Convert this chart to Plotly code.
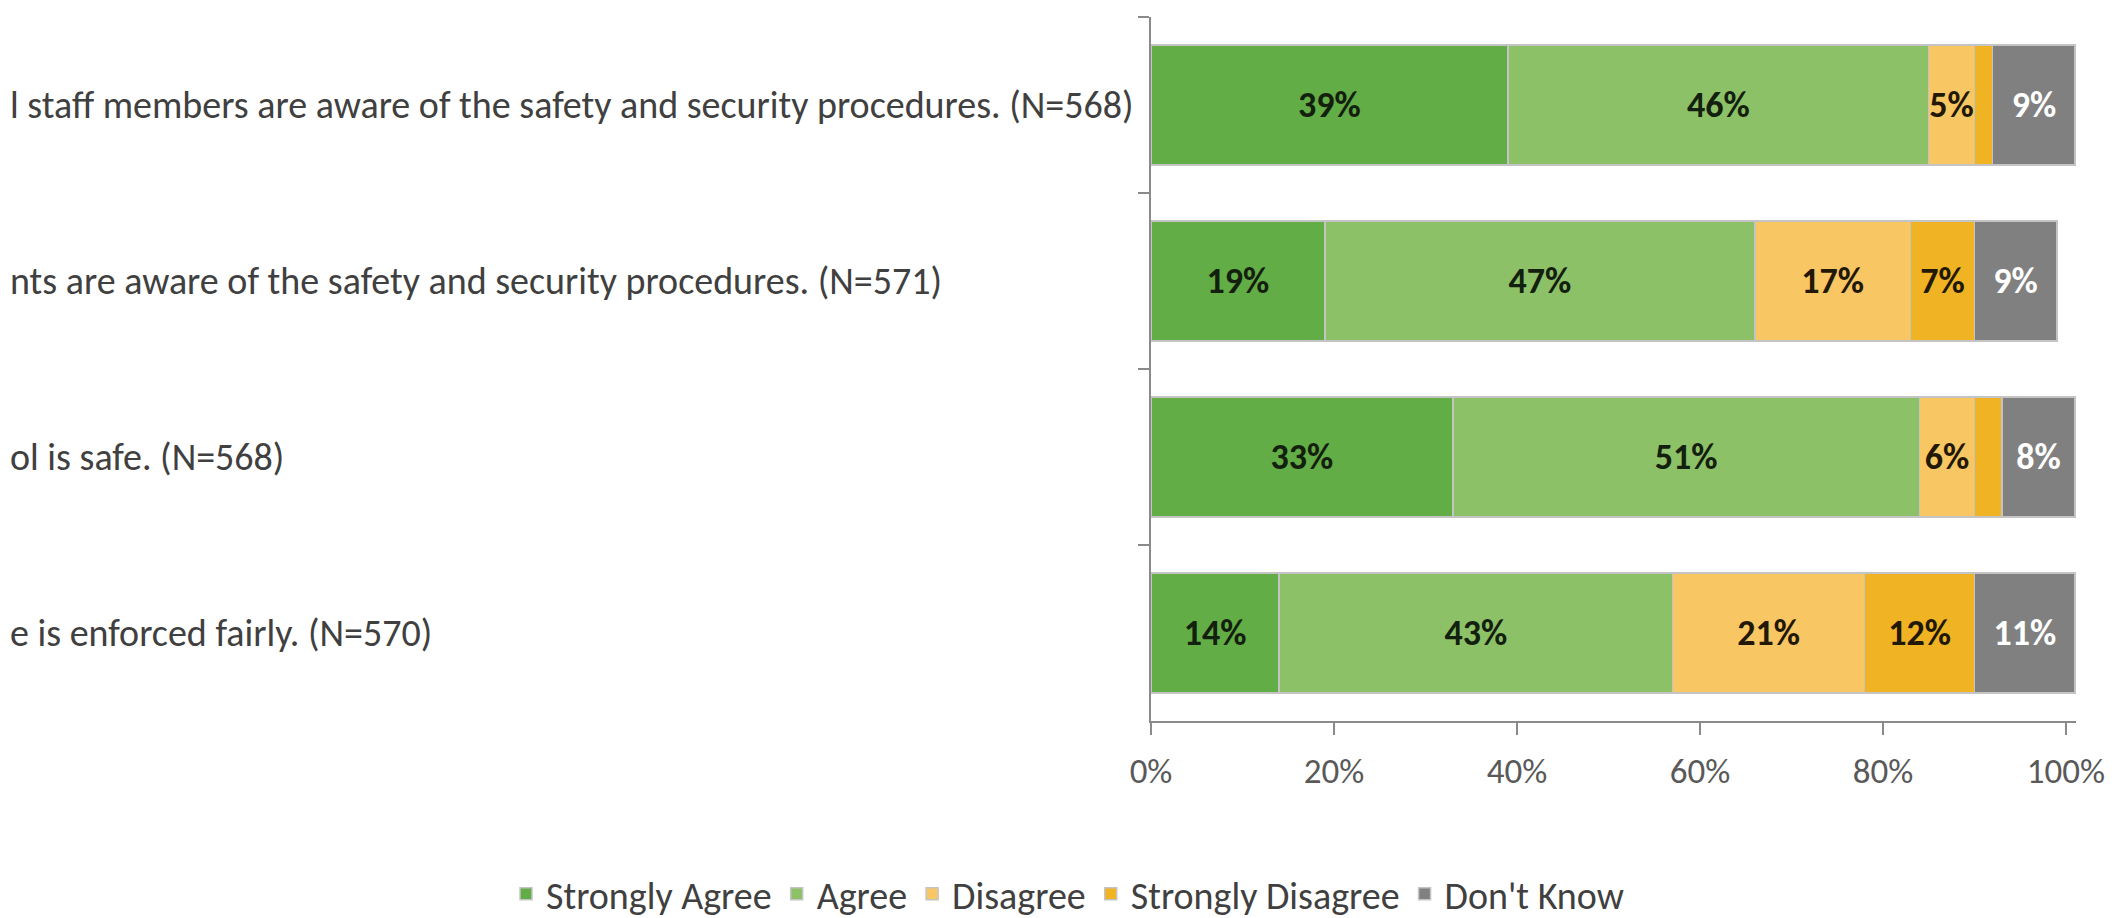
"""Survey safety items - 100% stacked horizontal bars."""

import plotly.graph_objects as go

# visible part of each item label (the left of the text is cut in the source)
ITEMS = [
    "l staff members are aware of the safety and security procedures. (N=568)",
    "nts are aware of the safety and security procedures. (N=571)",
    "ol is safe. (N=568)",
    "e is enforced fairly. (N=570)",
]
STRONGLY_AGREE = [39, 19, 33, 14]
AGREE = [46, 47, 51, 43]
DISAGREE = [5, 17, 6, 21]
STRONGLY_DISAGREE = [2, 7, 3, 12]
DONT_KNOW = [9, 9, 8, 11]
X_TICKS = [0, 20, 40, 60, 80, 100]

SERIES = [
    ("Strongly Agree", STRONGLY_AGREE, "#62ad45", "#14200e"),
    ("Agree", AGREE, "#8cc168", "#14200e"),
    ("Disagree", DISAGREE, "#f8c662", "#221806"),
    ("Strongly Disagree", STRONGLY_DISAGREE, "#f0b323", "#221806"),
    ("Don't Know", DONT_KNOW, "#808080", "#ffffff"),
]

W, H = 2121, 918
L, R, T, B = 1143, 53, 9, 205
PW, PH = W - L - R, H - T - B
FONT = "Carlito, Calibri, Lato, sans-serif"
AXIS = "#8a8a8a"
LABEL = "#404040"

fig = go.Figure()
for name, vals, color, txt in SERIES:
    fig.add_trace(
        go.Bar(
            name=name,
            orientation="h",
            y=ITEMS,
            x=vals,
            marker=dict(color=color, line=dict(color="#c4c4c4", width=1.5)),
            text=[f"{v}%" if v >= 4 else "" for v in vals],
            textposition="inside",
            insidetextanchor="middle",
            textangle=0,
            constraintext="none",
            textfont=dict(color=txt, size=36, family=FONT, weight="bold"),
            hovertemplate="%{x}%<extra>" + name + "</extra>",
        )
    )

# left-aligned item labels (Excel style, starting at the left edge)
for item in ITEMS:
    fig.add_annotation(
        text=item,
        xref="paper",
        yref="y",
        x=-L / PW,
        y=item,
        xanchor="left",
        yanchor="middle",
        showarrow=False,
        font=dict(size=38, color=LABEL, family=FONT),
    )

fig.update_layout(
    width=W,
    height=H,
    barmode="stack",
    bargap=0.32,
    paper_bgcolor="white",
    plot_bgcolor="white",
    margin=dict(l=L, r=R, t=T, b=B, autoexpand=False),
    font=dict(family=FONT, color=LABEL, size=35),
    legend=dict(
        orientation="h",
        # anchored left, below and left of the plot so it may span the full width
        x=(498 - L) / PW,
        xanchor="left",
        y=-(886 - (H - B)) / PH,
        yanchor="middle",
        font=dict(size=38, color=LABEL, family=FONT),
        traceorder="normal",
        itemwidth=30,
    ),
    showlegend=True,
)
fig.update_xaxes(
    range=[0, 101.1],
    tickvals=X_TICKS,
    ticktext=[f"{t}%" for t in X_TICKS],
    showgrid=False,
    zeroline=False,
    showline=True,
    linecolor=AXIS,
    linewidth=2,
    ticks="outside",
    ticklen=12,
    tickcolor=AXIS,
    tickwidth=2,
    ticklabelstandoff=6,
    tickfont=dict(size=35, color="#595959", family=FONT),
)
fig.update_yaxes(
    autorange="reversed",
    showticklabels=False,
    showgrid=False,
    zeroline=False,
    showline=True,
    linecolor=AXIS,
    linewidth=2,
    ticks="outside",
    tickson="boundaries",
    ticklen=11,
    tickcolor=AXIS,
    tickwidth=2,
)

fig.write_html("out.html")
